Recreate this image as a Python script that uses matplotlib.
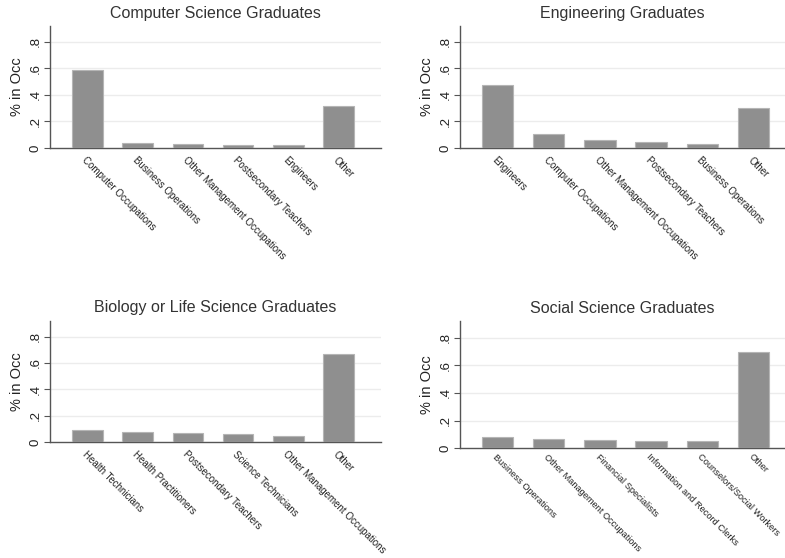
import matplotlib
matplotlib.use("Agg")
import matplotlib.pyplot as plt

plt.rcParams['font.family'] = ['Liberation Sans', 'DejaVu Sans']

titles = ["Computer Science Graduates", "Engineering Graduates",
          "Biology or Life Science Graduates", "Social Science Graduates"]

cs_labels = ["Computer Occupations", "Business Operations", "Other Management Occupations",
             "Postsecondary Teachers", "Engineers", "Other"]
cs_values = [0.587, 0.038, 0.028, 0.025, 0.025, 0.315]

eng_labels = ["Engineers", "Computer Occupations", "Other Management Occupations",
              "Postsecondary Teachers", "Business Operations", "Other"]
eng_values = [0.473, 0.108, 0.058, 0.045, 0.033, 0.300]

bio_labels = ["Health Technicians", "Health Practitioners", "Postsecondary Teachers",
              "Science Technicians", "Other Management Occupations", "Other"]
bio_values = [0.090, 0.080, 0.070, 0.060, 0.050, 0.670]

soc_labels = ["Business Operations", "Other Management Occupations", "Financial Specialists",
              "Information and Record Clerks", "Counselors/Social Workers", "Other"]
soc_values = [0.084, 0.067, 0.060, 0.053, 0.053, 0.697]

yticks = [0, 0.2, 0.4, 0.6, 0.8]
ytick_labels = ["0", ".2", ".4", ".6", ".8"]

W, H = 785, 558
fig = plt.figure(figsize=(W / 100, H / 100), dpi=100)

# (left, right, top, bottom) in pixels, xlim, label font size, label pad
panels = [
    ((50, 381, 26, 148), (-0.747, 5.847), cs_labels, cs_values, 7.0, 5),
    ((460, 785, 26, 148), (-0.732, 5.615), eng_labels, eng_values, 7.0, 5),
    ((50, 381, 320.7, 442.3), (-0.747, 5.847), bio_labels, bio_values, 7.0, 5),
    ((460, 785, 321, 448.3), (-0.732, 5.615), soc_labels, soc_values, 6.7, 3),
]

for (box, xlim, labels, values, fs, pad), title in zip(panels, titles):
    l, r, t, b = box
    ax = fig.add_axes([l / W, (H - b) / H, (r - l) / W, (b - t) / H])
    x = list(range(len(values)))
    ax.bar(x, values, width=0.61, color='#8f8f8f', edgecolor='#b5b5b5',
           linewidth=0.8, zorder=3)
    ax.set_xlim(*xlim)
    ax.set_ylim(0, 0.92)
    ax.set_yticks(yticks)
    ax.set_yticklabels(ytick_labels, rotation=90, va='center', fontsize=9.5, color='#222222')
    for yv in yticks[1:]:
        ax.axhline(yv, color='#ececec', linewidth=1.0, zorder=1)
    ax.set_xticks(x)
    ax.set_xticklabels(labels, rotation=-45, ha='left', va='top',
                       rotation_mode='anchor', fontsize=fs, color='#222222')
    ax.tick_params(axis='x', length=0, pad=pad)
    ax.tick_params(axis='y', length=4, width=0.8, color='#555555', pad=2)
    for s in ['top', 'right']:
        ax.spines[s].set_visible(False)
    for s in ['left', 'bottom']:
        ax.spines[s].set_color('#555555')
        ax.spines[s].set_linewidth(1.0)
    ax.set_ylabel("% in Occ", fontsize=10.5, color='#222222', labelpad=4)
    ax.set_title(title, fontsize=11.5, color='#333333', pad=6)

fig.savefig("out.png", dpi=100)
